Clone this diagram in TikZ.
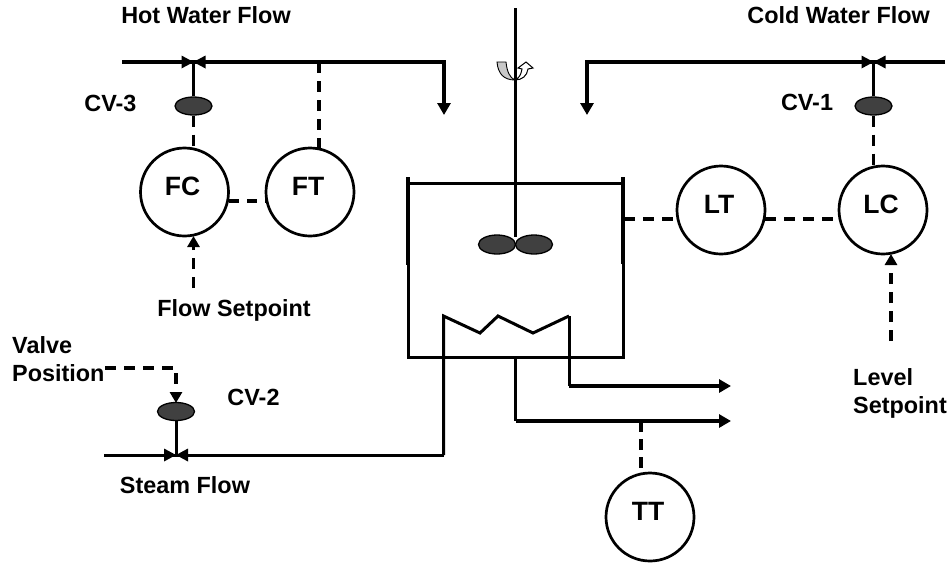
\documentclass[tikz,border=0pt]{standalone}
\usepackage{fontspec}
\setmainfont{Liberation Sans}
\usetikzlibrary{arrows.meta,shapes.geometric}
\definecolor{valvefill}{HTML}{404040}
\definecolor{swirl}{HTML}{C8C8C8}
\newcommand{\instrtext}[1]{\raisebox{11pt}{\hspace{-4pt}#1}}
\tikzset{
  x=1pt,y=-1pt,
  pipe/.style={line width=3.6pt},
  vessel/.style={line width=3pt},
  signal/.style={line width=3.8pt,dash pattern=on 11pt off 8pt},
  flowarrow/.style={pipe,-{Triangle[length=12pt,width=13pt]}},
  sigarrow/.style={signal,-{Triangle[length=11pt,width=12pt]}},
  instr/.style={circle,draw,line width=2.7pt,minimum size=88pt,inner sep=0pt,font=\fontsize{26.5}{28}\selectfont\bfseries},
  actuator/.style={ellipse,draw,fill=valvefill,line width=1.3pt,minimum width=37pt,minimum height=18pt,inner sep=0pt},
  label/.style={font=\fontsize{23.4}{28}\selectfont\bfseries,inner sep=0pt},
}
\begin{document}
\begin{tikzpicture}
\useasboundingbox (0,0) rectangle (952,563);
\fill[white] (0,0) rectangle (952,563);
% instruments
\node[instr] (FC) at (184.5,192) {\instrtext{FC}};
\node[instr] (FT) at (310,192) {\instrtext{FT}};
\node[instr] (LT) at (721,210) {\instrtext{LT}};
\node[instr] (LC) at (883,210) {\instrtext{LC}};
\node[instr] (TT) at (650,517) {\instrtext{TT}};
% valves
\node[actuator] (CV3) at (193.5,106) {};
\node[actuator] (CV1) at (873.5,106) {};
\node[actuator] (CV2) at (176,411.5) {};
\coordinate (v3) at (193.5,62);
\coordinate (v1) at (873.5,62);
\coordinate (v2) at (176,455);
% hot line
\coordinate (hs) at (122,62);
\coordinate (hc) at (444,62);
\coordinate (he) at (444,115);
\draw[flowarrow] (hs) -- (hc) -- (he);
% cold line
\coordinate (cs) at (945,62);
\coordinate (cc) at (587,62);
\coordinate (ce) at (587,115);
\draw[flowarrow] (cs) -- (cc) -- (ce);
% tank
\coordinate (tl) at (408,183);
\coordinate (tr) at (623,183);
\coordinate (bl) at (408,357);
\coordinate (br) at (623,357);
\coordinate (bm) at (515.5,357);
\coordinate (lw) at (408,265);
\coordinate (rw) at (623,264);
\coordinate (rt) at (623,177);
\coordinate (lt) at (408,177);
\draw[vessel,line join=miter] (tl) -- (bl) -- (br) -- (tr) -- cycle;
\draw[line width=3.3pt] (lt) -- (lw);
\draw[line width=3.3pt] (rt) -- (rw);
% shaft
\coordinate (st) at (515.5,8);
\coordinate (sb) at (515.5,237);
\draw[line width=2.7pt] (st) -- (sb);
\node[actuator,minimum height=19pt] (I1) at (497,244.5) {};
\node[actuator,minimum height=19pt] (I2) at (534,244.5) {};
% swirl
\fill[swirl,draw=black,line width=.9pt] (497,62) .. controls (498,74) and (504,80) .. (515,80) .. controls (510,78) and (507,72) .. (506,62) -- cycle;
\filldraw[fill=white,draw=black,line width=1pt] (515,80) .. controls (522,80) and (527,76) .. (528,69) -- (533,68) -- (526,62) -- (518,68) -- (522,69) .. controls (521,75) and (519,78) .. (515,80);
% coil
\coordinate (c1) at (443.5,316);
\coordinate (c5) at (569,316);
\coordinate (sl) at (443.5,455);
\draw[vessel,line join=miter] (sl) -- (c1) -- (480,333) -- (498,316) -- (533,333) -- (c5);
% steam
\coordinate (ss) at (104,455);
\draw[line width=3pt] (ss) -- (sl);
% stems
\draw[pipe] (v3) -- (CV3);
\draw[pipe] (v1) -- (CV1);
\draw[line width=3pt] (v2) -- (CV2);
% valve bodies
\foreach \c in {v1,v2,v3}{
  \fill (\c) -- ++(-12,-6.5) -- ++(0,13) -- cycle;
  \fill (\c) -- ++(12,-6.5) -- ++(0,13) -- cycle;
}
% outlets
\coordinate (o1) at (569,386);
\coordinate (o1e) at (731,386);
\coordinate (o2) at (515.5,421);
\coordinate (o2e) at (731,421);
\draw[vessel] (c5) -- (o1);
\draw[flowarrow] (o1) -- (o1e);
\draw[vessel] (bm) -- (o2);
\draw[flowarrow] (o2) -- (o2e);
% signals
\coordinate (cv3b) at (193.5,148);
\coordinate (ftt) at (319,148);
\coordinate (fth) at (319,62);
\coordinate (cv1b) at (873.5,166);
\coordinate (tth) at (641,421);
\coordinate (ttt) at (641,472);
\draw[signal] (CV3) -- (cv3b);
\draw[signal] (fth) -- (ftt);
\coordinate (fcr) at (229,201);
\coordinate (ftl) at (266,201);
\draw[signal,dash pattern=on 10pt off 8pt] (fcr) -- (ftl);
\coordinate (wa) at (624,219);
\coordinate (lta) at (677,219);
\coordinate (ltb) at (765,219);
\coordinate (lca) at (839,219);
\draw[signal] (wa) -- (lta);
\draw[signal] (ltb) -- (lca);
\draw[signal] (CV1) -- (cv1b);
\draw[signal,dash pattern=on 11pt off 7pt] (tth) -- (ttt);
\coordinate (fsp) at (193.5,288);
\coordinate (fst) at (193.5,236);
\draw[sigarrow] (fsp) -- (fst);
\coordinate (lsp) at (891,341);
\coordinate (lst) at (891,254);
\draw[sigarrow] (lsp) -- (lst);
\coordinate (vp) at (105,368);
\coordinate (vc) at (176,368);
\coordinate (vt) at (176,403);
\draw[sigarrow] (vp) -- (vc) -- (vt);
% labels
\node[label] (l1) at (206,15) {Hot Water Flow};
\node[label,anchor=east] (l2) at (930,15) {Cold Water Flow};
\node[label] (l3) at (110.5,103) {CV-3};
\node[label] (l4) at (807,102) {CV-1};
\node[label] (l5) at (253.5,397) {CV-2};
\node[label] (l6) at (234,310) {Flow Setpoint};
\node[label,anchor=west,align=left] (l7) at (12,359) {Valve\\Position};
\node[label] (l8) at (185,485) {Steam Flow};
\node[label,anchor=west,align=left] (l9) at (853,393) {Level\\Setpoint};
\end{tikzpicture}
\end{document}
